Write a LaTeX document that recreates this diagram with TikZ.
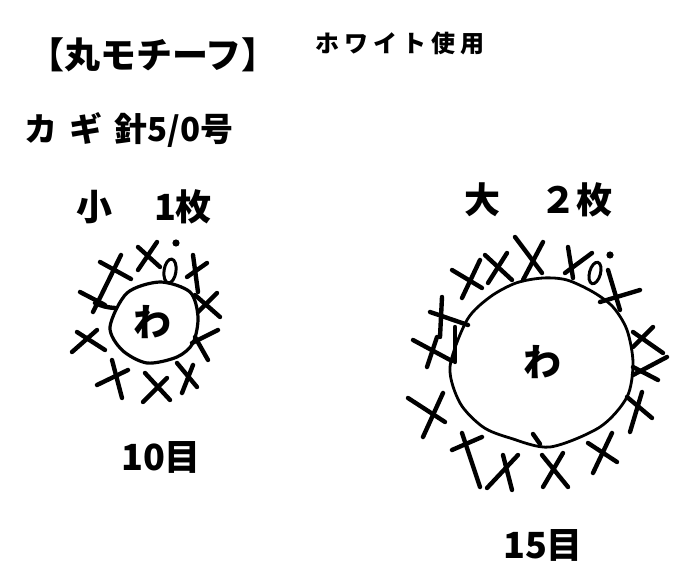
\documentclass[tikz,border=0pt]{standalone}
\usepackage{fontspec}
\setmainfont{Noto Sans CJK JP}
\begin{document}
\begin{tikzpicture}
[x=1pt,y=-1pt,
  titletext/.style={font=\fontsize{36}{36}\selectfont\bfseries},
  notetext/.style={font=\fontsize{24}{24}\selectfont\bfseries},
  hooktext/.style={font=\fontsize{33}{33}\selectfont\bfseries},
  headtext/.style={font=\fontsize{36}{36}\selectfont\bfseries},
  counttext/.style={font=\fontsize{36}{36}\selectfont\bfseries},
  ringtext/.style={font=\fontsize{38}{38}\selectfont\bfseries},
  stitchline/.style={line width=4.4pt,line cap=round},
  ringline/.style={line width=3.2pt},
  chainloop/.style={line width=3pt}]
\useasboundingbox (0,0) rectangle (688,577);
%% texts
\node[titletext] (title) at (153,55) {【丸モチーフ】};
\node[notetext] (yarn) at (400,43)
  {ホ\hspace{5pt}ワ\hspace{5pt}イ\hspace{5pt}ト\hspace{5pt}使\hspace{5pt}用};
\node[hooktext,anchor=west] (hook) at (21,130)
  {カ\hspace{12pt}ギ\hspace{12pt}針5/0号};
\node[headtext] (smallhead) at (144,207) {小　\hspace{6pt}1枚};
\node[headtext] (largehead) at (538,200) {大　\hspace{4pt}２枚};
\node[ringtext] (smallring) at (152,322) {わ};
\node[ringtext] (largering) at (542,362) {わ};
\node[counttext] (smallcount) at (161,457) {10目};
\node[counttext] (largecount) at (543,545) {15目};
%% small motif
\draw[ringline] plot[smooth cycle] coordinates {(110,327) (127,293) (160,282)
  (190,292) (198,317) (193,343) (177,357) (147,363) (122,350)};
\draw[chainloop,rotate around={-8:(170,271)}] (170,271) ellipse (6 and 12);
\fill (176,243) circle (3.6);
\foreach \xa/\ya/\xb/\yb in {138/247/160/267, 157/242/138/270,
  187/277/207/263, 193/255/198/292,
  100/262/131/279, 121/255/93/312, 80/292/105/305,
  72/352/97/330, 77/332/105/350,
  97/385/128/370, 112/360/122/398,
  145/373/170/400, 167/378/143/402,
  177/363/197/387, 193/365/182/393,
  192/343/218/330, 195/337/208/360,
  195/295/220/317, 217/293/198/312}
{
  \draw[stitchline] (\xa,\ya) -- (\xb,\yb);
}
\draw[stitchline] (95,303) to[bend right=10] (115,308);
%% large motif
\draw[ringline,line width=2.8pt] plot[smooth cycle] coordinates {(450,367)
  (460,403) (483,427) (510,438) (550,447) (600,427) (627,397) (633,363)
  (627,330) (613,307) (593,292) (567,280) (543,278) (516,283) (490,297)
  (467,320)};
\draw[chainloop,rotate around={-15:(595,273)}] (595,273) ellipse (5.5 and 11);
\fill (610,255) circle (3.6);
\foreach \xa/\ya/\xb/\yb in {452/270/482/288, 480/260/462/298,
  485/255/512/280, 507/253/488/283,
  515/237/542/273, 543/242/523/280,
  568/247/573/278, 565/273/592/253,
  608/270/620/310, 600/302/640/290,
  430/312/468/325, 442/297/440/337, 455/327/455/362,
  413/340/452/361, 437/337/427/367,
  408/398/445/422, 443/393/423/437,
  452/450/482/437, 462/433/480/487,
  487/488/518/455, 503/455/512/490,
  542/455/568/487, 563/453/543/487,
  588/443/617/462, 612/433/593/473,
  627/397/652/418, 642/392/630/432,
  633/367/658/380, 667/357/633/375,
  633/332/663/353, 653/327/633/347,
  533/434/540/444}
{
  \draw[stitchline] (\xa,\ya) -- (\xb,\yb);
}
\end{tikzpicture}
\end{document}
